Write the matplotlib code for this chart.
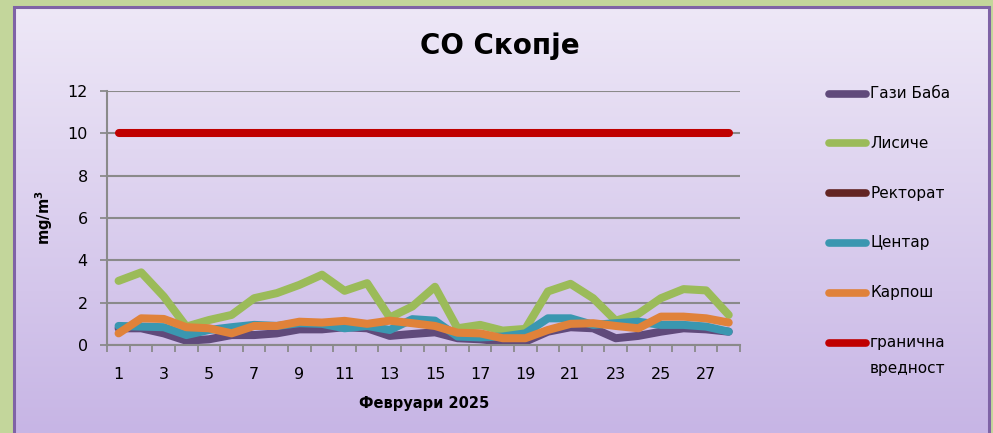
import numpy as np
import matplotlib.pyplot as plt
from matplotlib.lines import Line2D
from matplotlib.patches import Rectangle

plt.rcParams['font.family'] = ['DejaVu Sans']

days = list(range(1, 29))

# CO concentrations, mg/m3
gazi_baba = [0.79, 0.79, 0.55, 0.2, 0.27, 0.47, 0.47, 0.55, 0.74, 0.74, 0.84, 0.79, 0.43, 0.52,
             0.6, 0.32, 0.27, 0.16, 0.16, 0.63, 0.84, 0.79, 0.32, 0.43, 0.63, 0.79, 0.74, 0.63]
lisice = [3.03, 3.43, 2.29, 0.87, 1.18, 1.42, 2.21, 2.45, 2.84, 3.32, 2.56, 2.92, 1.3, 1.82,
          2.75, 0.79, 0.95, 0.68, 0.76, 2.53, 2.89, 2.21, 1.15, 1.47, 2.21, 2.64, 2.58, 1.42]
rektorat = []  # no data in February
centar = [0.9, 0.87, 0.84, 0.47, 0.71, 0.84, 0.95, 0.9, 1.03, 1.0, 0.79, 0.9, 0.71, 1.22,
          1.15, 0.4, 0.36, 0.4, 0.55, 1.26, 1.26, 0.95, 1.03, 1.1, 0.95, 0.95, 0.87, 0.63]
karpos = [0.55, 1.26, 1.23, 0.84, 0.79, 0.55, 0.9, 0.9, 1.1, 1.06, 1.14, 1.0, 1.15, 1.03,
          0.9, 0.58, 0.55, 0.32, 0.32, 0.71, 1.0, 1.03, 0.9, 0.79, 1.34, 1.34, 1.26, 1.06]
granicna = [10] * 28

names = ['Гази Баба', 'Лисиче', 'Ректорат', 'Центар', 'Карпош', 'гранична\nвредност']
colors = ['#604a7b', '#9bbb59', '#632523', '#3a97b0', '#e0823a', '#c00000']

W, H = 993, 433
fig = plt.figure(figsize=(W / 100, H / 100), dpi=100)
fig.patch.set_facecolor('#c3d69b')

# purple gradient panel
bg = fig.add_axes([14 / W, 0, (989 - 14) / W, (H - 7) / H])
grad = np.linspace(0, 1, 256).reshape(-1, 1)
top = np.array([238, 232, 247]) / 255
bot = np.array([199, 181, 229]) / 255
img = top + (bot - top) * grad[:, :, None]
bg.imshow(img, aspect='auto', extent=[0, 1, 0, 1])
bg.add_patch(Rectangle((0, -0.1), 1, 1.1, fill=False, edgecolor='#7f63a6', lw=2.2,
                       transform=bg.transAxes, clip_on=False))
bg.set_axis_off()

ax = fig.add_axes([107.3 / W, (H - 345) / H, (740 - 107.3) / W, (345 - 91) / H])
ax.set_facecolor('none')

series = [gazi_baba, lisice, rektorat, centar, karpos, granicna]
for vals, c in zip(series, colors):
    ax.plot(days[:len(vals)], vals, color=c, lw=5.8,
            solid_capstyle='round', solid_joinstyle='round')

ax.set_xlim(0.5, 28.5)
ax.set_ylim(0, 12)
ax.set_yticks(range(0, 13, 2))
ax.set_xticks(range(1, 29, 2))
ax.set_xticks(np.arange(0.5, 29, 1), minor=True)
ax.tick_params(axis='x', which='major', length=0, pad=16, labelsize=11.5)
ax.tick_params(axis='x', which='minor', length=5, width=1.3, color='#8a8a8a')
ax.tick_params(axis='y', length=5, width=1.3, color='#8a8a8a', pad=9, labelsize=11.5)
ax.grid(axis='y', color='#8a8a8a', lw=1.5)
ax.set_axisbelow(True)
for s in ['top', 'right']:
    ax.spines[s].set_visible(False)
for s in ['left', 'bottom']:
    ax.spines[s].set_color('#8a8a8a')
    ax.spines[s].set_linewidth(1.5)

ax.set_ylabel('mg/m$^\\mathbf{3}$', fontsize=10.5, fontweight='bold')
ax.yaxis.set_label_coords(-0.083, 0.5)
ax.set_xlabel('Февруари 2025', fontsize=10.5, fontweight='bold')
ax.xaxis.set_label_coords(0.5, -0.2)

fig.text(500 / W, 1 - 46 / H, 'CO Скопје', ha='center', va='center',
         fontsize=20, fontweight='bold')

# legend on the right
ys = [94, 143, 193, 243, 293, 343]
for name, c, y in zip(names, colors, ys):
    fig.add_artist(Line2D([829 / W, 866 / W], [1 - y / H, 1 - y / H], color=c, lw=5.5,
                          solid_capstyle='round'))
    first, *rest = name.split('\n')
    fig.text(870 / W, 1 - y / H, first, ha='left', va='center', fontsize=11)
    if rest:
        fig.text(870 / W, 1 - (y + 25) / H, rest[0], ha='left', va='center', fontsize=11)

fig.savefig('out.png', dpi=100, facecolor=fig.get_facecolor())
